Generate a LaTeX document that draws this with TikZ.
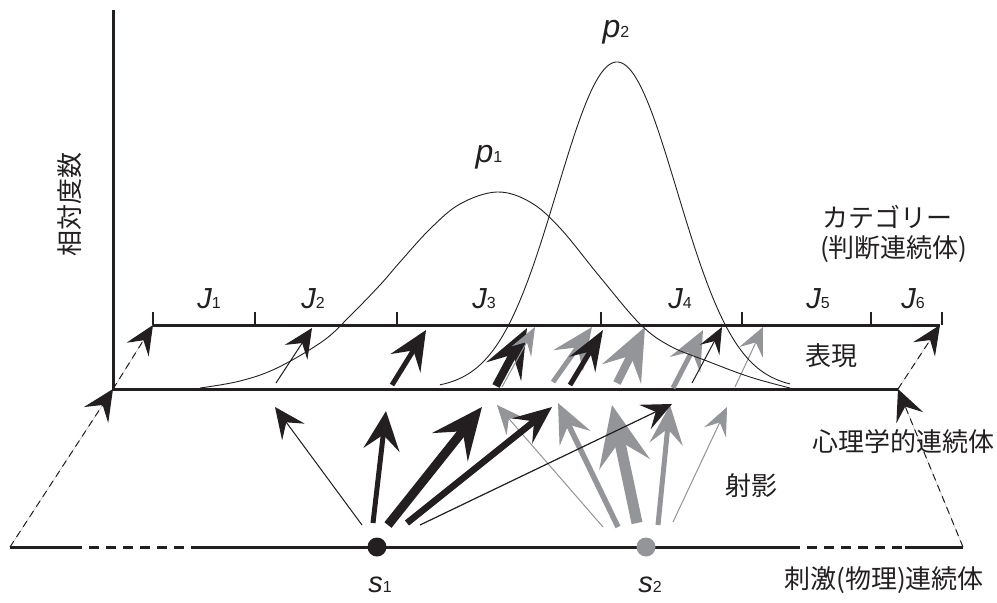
\documentclass[tikz,border=0pt]{standalone}
\usepackage{fontspec}
\setmainfont{Liberation Sans}
\newfontfamily\jpfont{Noto Sans CJK JP}
\usetikzlibrary{arrows.meta}
\definecolor{ink}{RGB}{35,31,32}
\definecolor{gry}{RGB}{147,149,152}
\newcommand\subdig[1]{{\upshape\fontsize{16}{18}\selectfont #1}}
\tikzset{
  ah/.style n args={3}{-{Stealth[length=#1pt,width=#2pt,inset=#3pt]}},
  jt/.style={font=\jpfont\fontsize{26}{30}\selectfont, inner sep=0pt, text=ink},
  jl/.style={font=\fontsize{29}{32}\selectfont\itshape, inner sep=0pt, anchor=base, text=ink},
  pl/.style={font=\fontsize{32}{34}\selectfont\itshape, inner sep=0pt, anchor=base, text=ink},
  axisline/.style={draw=ink, line width=3pt},
  tickline/.style={draw=ink, line width=1.2pt},
  dashedarrow/.style={draw=ink, fill=ink, line width=1pt, dash pattern=on 7pt off 5pt},
  curve/.style={draw=ink, line width=0.9pt},
  blk/.style={draw=ink, fill=ink},
  gr/.style={draw=gry, fill=gry},
}
\begin{document}
\begin{tikzpicture}[x=1pt,y=-1pt]
\useasboundingbox (0,0) rectangle (997,603);

% ---------- key points ----------
\coordinate (axtop) at (113,10);
\coordinate (bl) at (113,389);
\coordinate (br) at (898,389);
\coordinate (tl) at (153,325);
\coordinate (tr) at (940,325);
\coordinate (stl) at (10,547);
\coordinate (str) at (963,547);
\coordinate (s1) at (377,547);
\coordinate (s2) at (646,547);

% ---------- axes and lines ----------
\draw[axisline] (axtop) -- (bl) -- (br);
\draw[axisline] (tl) -- (tr);
\foreach \tx in {153,255,397,601,742,871,942}
  \draw[tickline] (\tx,312) -- (\tx,325);

% stimulus continuum
\coordinate (st1) at (72,547);
\coordinate (st2) at (193,547);
\coordinate (st3) at (790,547);
\coordinate (st4) at (905,547);
\draw[axisline] (stl) -- (st1);
\draw[axisline, dash pattern=on 10pt off 7pt] (st1) -- (st2);
\draw[axisline] (st2) -- (st3);
\draw[axisline, dash pattern=on 10pt off 7pt] (st3) -- (st4);
\draw[axisline] (st4) -- (str);

% dashed mapping arrows
\draw[dashedarrow, ah={31}{29}{12}] (stl) -- (bl);
\draw[dashedarrow, ah={29}{26}{11}] (bl) -- (tl);
\draw[dashedarrow, ah={31}{29}{12}] (str) -- (br);
\draw[dashedarrow, ah={29}{26}{11}] (br) -- (tr);

% ---------- projection arrows from s2 (gray) ----------
\coordinate (g1s) at (603,527); \coordinate (g1e) at (497,405);
\coordinate (g2s) at (618,527); \coordinate (g2e) at (558,403);
\coordinate (g3s) at (637,523); \coordinate (g3e) at (612,405);
\coordinate (g4s) at (658,525); \coordinate (g4e) at (670,405);
\coordinate (g5s) at (673,522); \coordinate (g5e) at (727,407);
\draw[gr, line width=1pt, ah={29}{25}{11}] (g1s) -- (g1e);
\draw[gr, line width=5.5pt, ah={39}{34}{15}] (g2s) -- (g2e);
\draw[gr, line width=11pt, ah={60}{51}{23}] (g3s) -- (g3e);
\draw[gr, line width=5pt, ah={39}{33}{15}] (g4s) -- (g4e);
\draw[gr, line width=1pt, ah={28}{24}{11}] (g5s) -- (g5e);

% ---------- projection arrows from s1 (black) ----------
\coordinate (a1s) at (362,525); \coordinate (a1e) at (275,407);
\coordinate (a2s) at (373,523); \coordinate (a2e) at (386,411);
\coordinate (a3s) at (388,525); \coordinate (a3e) at (482,407);
\coordinate (a4s) at (407,523); \coordinate (a4e) at (552,407);
\coordinate (a5s) at (420,525); \coordinate (a5e) at (672,404);
\draw[blk, line width=1pt, ah={31}{28}{12}] (a1s) -- (a1e);
\draw[blk, line width=5pt, ah={39}{36}{15}] (a2s) -- (a2e);
\draw[blk, line width=9pt, ah={51}{45}{20}] (a3s) -- (a3e);
\draw[blk, line width=6.5pt, ah={38}{32}{15}] (a4s) -- (a4e);
\draw[blk, line width=1.2pt, ah={30}{27}{12}] (a5s) -- (a5e);

% ---------- representation arrows in the band ----------
\coordinate (b1s) at (276,383); \coordinate (b1e) at (312,328);
\coordinate (b2s) at (392,385); \coordinate (b2e) at (426,330);
\coordinate (b3s) at (496,386); \coordinate (b3e) at (527,328);
\coordinate (b4s) at (502,387); \coordinate (b4e) at (535,327);
\coordinate (b5s) at (553,382); \coordinate (b5e) at (592,327);
\coordinate (b6s) at (570,385); \coordinate (b6e) at (603,330);
\coordinate (b7s) at (617,383); \coordinate (b7e) at (645,327);
\coordinate (b8s) at (673,388); \coordinate (b8e) at (703,330);
\coordinate (b9s) at (692,383); \coordinate (b9e) at (722,327);
\coordinate (b10s) at (735,387); \coordinate (b10e) at (763,327);
\draw[blk, line width=1pt, ah={29}{27}{11}] (b1s) -- (b1e);
\draw[blk, line width=5pt, ah={39}{35}{15}] (b2s) -- (b2e);
\draw[blk, line width=8pt, ah={49}{39}{19}] (b3s) -- (b3e);
\draw[gr, line width=1pt, ah={28}{22}{11}] (b4s) -- (b4e);
\draw[gr, line width=5pt, ah={41}{36}{16}] (b5s) -- (b5e);
\draw[blk, line width=5pt, ah={40}{30}{15}] (b6s) -- (b6e);
\draw[gr, line width=8pt, ah={52}{43}{20}] (b7s) -- (b7e);
\draw[gr, line width=5pt, ah={39}{34}{15}] (b8s) -- (b8e);
\draw[blk, line width=1pt, ah={26}{22}{10}] (b9s) -- (b9e);
\draw[gr, line width=1pt, ah={28}{26}{11}] (b10s) -- (b10e);

% ---------- distributions ----------
\draw[curve] plot[smooth, tension=0.6] coordinates {
  (200,388) (240,381) (277,368) (323,341) (350,316) (380,285) (400,262)
  (430,229) (460,204) (497,192) (530,202) (560,228) (600,277) (640,324)
  (670,346) (707,361) (750,377) (790,388)};
\draw[curve] plot[domain=440:790, samples=140]
  (\x, {389-327*exp(-0.5*((\x-617)/60)^2)});

% ---------- dots ----------
\fill[ink] (s1) circle[radius=9.5pt];
\fill[gry] (s2) circle[radius=9.5pt];

% ---------- labels ----------
\node[jl] (j1) at (209,308) {J\subdig{1}};
\node[jl] (j2) at (313,308) {J\subdig{2}};
\node[jl] (j3) at (484,308) {J\subdig{3}};
\node[jl] (j4) at (680,308) {J\subdig{4}};
\node[jl] (j5) at (818,308) {J\subdig{5}};
\node[jl] (j6) at (913,308) {J\subdig{6}};
\node[pl] (p1) at (489,162) {p\subdig{1}};
\node[pl] (p2) at (616,37) {p\subdig{2}};
\node[jl] (s1l) at (380,592) {s\subdig{1}};
\node[jl] (s2l) at (650,592) {s\subdig{2}};

\node[jt, rotate=90] (ylab) at (70,204) {相対度数};
\node[jt, anchor=west] (cat1) at (822,217) {カテゴリー};
\node[jt, anchor=west] (cat2) at (820,249) {(判断連続体)};
\node[jt] (hyo) at (831,356) {表現};
\node[jt] (shin) at (903,442) {心理学的連続体};
\node[jt] (sha) at (751,486) {射影};
\node[jt] (shi) at (884,580) {刺激(物理)連続体};
\end{tikzpicture}
\end{document}
